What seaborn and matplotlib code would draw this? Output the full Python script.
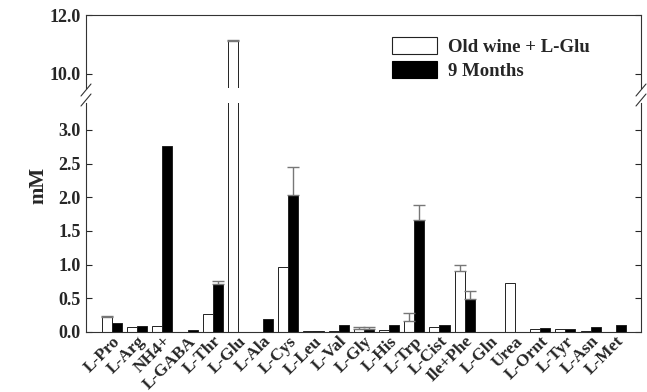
import matplotlib
matplotlib.use("Agg")
import matplotlib.pyplot as plt
import seaborn as sns
import pandas as pd
import numpy as np
from matplotlib.patches import Patch

categories = ["L-Pro", "L-Arg", "NH4+", "L-GABA", "L-Thr", "L-Glu", "L-Ala", "L-Cys",
              "L-Leu", "L-Val", "L-Gly", "L-His", "L-Trp", "L-Cist", "Ile+Phe", "L-Gln",
              "Urea", "L-Ornt", "L-Tyr", "L-Asn", "L-Met"]
series_names = ["Old wine + L-Glu", "9 Months"]
old_wine = [0.23, 0.08, 0.085, 0.0, 0.27, 11.1, 0.0, 0.97, 0.01, 0.01, 0.05, 0.03,
            0.17, 0.07, 0.91, 0.0, 0.73, 0.04, 0.04, 0.02, 0.0]
nine_months = [0.14, 0.09, 2.76, 0.03, 0.72, 0.0, 0.19, 2.03, 0.01, 0.11, 0.04, 0.10,
               1.66, 0.10, 0.485, 0.0, 0.0, 0.06, 0.04, 0.075, 0.11]
old_wine_err = [0.01, 0.0, 0.0, 0.0, 0.0, 0.04, 0.0, 0.0, 0.0, 0.0, 0.03, 0.0,
                0.11, 0.0, 0.08, 0.0, 0.0, 0.0, 0.0, 0.0, 0.0]
nine_months_err = [0.0, 0.0, 0.0, 0.0, 0.04, 0.0, 0.0, 0.42, 0.0, 0.0, 0.04, 0.0,
                   0.22, 0.0, 0.12, 0.0, 0.0, 0.0, 0.0, 0.0, 0.0]
bottom_ticks = [0.0, 0.5, 1.0, 1.5, 2.0, 2.5, 3.0]
top_ticks = [10.0, 12.0]

df = pd.DataFrame({
    "cat": categories * 2,
    "series": [series_names[0]] * len(categories) + [series_names[1]] * len(categories),
    "value": old_wine + nine_months,
})
errs = [old_wine_err, nine_months_err]

sns.set_style("ticks")
serif = ["Liberation Serif", "DejaVu Serif"]
plt.rcParams["font.family"] = serif
plt.rcParams["font.weight"] = "bold"

fig = plt.figure(figsize=(6.47, 3.92), dpi=100)
L, R = 86 / 647, 641 / 647
ax_top = fig.add_axes([L, 1 - 88 / 392, R - L, (88 - 15) / 392])
ax_bot = fig.add_axes([L, 1 - 332 / 392, R - L, (332 - 103) / 392])

palette = {series_names[0]: "white", series_names[1]: "black"}
for ax in (ax_top, ax_bot):
    sns.barplot(data=df, x="cat", y="value", hue="series", order=categories,
                hue_order=series_names, palette=palette, width=0.8,
                edgecolor="#222222", linewidth=0.7, errorbar=None, legend=False, ax=ax)
    for cont, err in zip(ax.containers, errs):
        for rect, e in zip(cont, err):
            if e > 0:
                xc = rect.get_x() + rect.get_width() / 2
                h = rect.get_height()
                ax.errorbar([xc], [h], yerr=[[0], [e]], fmt="none", ecolor="#777777",
                            elinewidth=1.0, capsize=4, capthick=1.0, zorder=1)
    ax.set_xlim(-1.03, 21.0)
    ax.set_xlabel("")
    ax.set_ylabel("")
    ax.tick_params(axis="y", direction="in", length=4, width=0.8, left=True, right=True,
                   labelsize=13, pad=4)
    for s in ax.spines.values():
        s.set_linewidth(0.8)
        s.set_color("#333333")

ax_top.set_ylim(9.52, 12.0)
ax_top.set_yticks(top_ticks)
ax_top.set_yticklabels([f"{t:.1f}" for t in top_ticks], fontweight="bold")
ax_top.spines["bottom"].set_visible(False)
ax_top.tick_params(axis="x", bottom=False, labelbottom=False)

ax_bot.set_ylim(0, 3.40)
ax_bot.set_yticks(bottom_ticks)
ax_bot.set_yticklabels([f"{t:.1f}" for t in bottom_ticks], fontweight="bold")
ax_bot.spines["top"].set_visible(False)
ax_bot.tick_params(axis="x", bottom=False, length=0, pad=1)
ax_bot.set_xticks(range(len(categories)))
ax_bot.set_xticklabels(categories, rotation=45, ha="right", rotation_mode="anchor",
                       fontsize=12.5, fontweight="bold")

# break marks
for xf in (L, R):
    x0 = xf * 647
    for yc in (90, 100):
        fig.add_artist(plt.Line2D([(x0 - 5) / 647, (x0 + 5) / 647],
                                  [1 - (yc + 6) / 392, 1 - (yc - 6) / 392],
                                  color="#333333", lw=0.8))

handles = [Patch(facecolor="white", edgecolor="#222222", linewidth=0.8, label=series_names[0]),
           Patch(facecolor="black", edgecolor="black", linewidth=0.8, label=series_names[1])]
fig.legend(handles=handles, loc="upper left", bbox_to_anchor=(392 / 647, 1 - 37 / 392),
           frameon=False, borderpad=0, borderaxespad=0, handlelength=2.4, handleheight=1.0,
           handletextpad=0.6, labelspacing=0.28,
           prop={"family": serif, "weight": "bold", "size": 13.5})

fig.text(38 / 647, 1 - 185 / 392, "mM", rotation=90, ha="center", va="center",
         fontsize=15, fontweight="bold")

fig.savefig("out.png", dpi=100)
